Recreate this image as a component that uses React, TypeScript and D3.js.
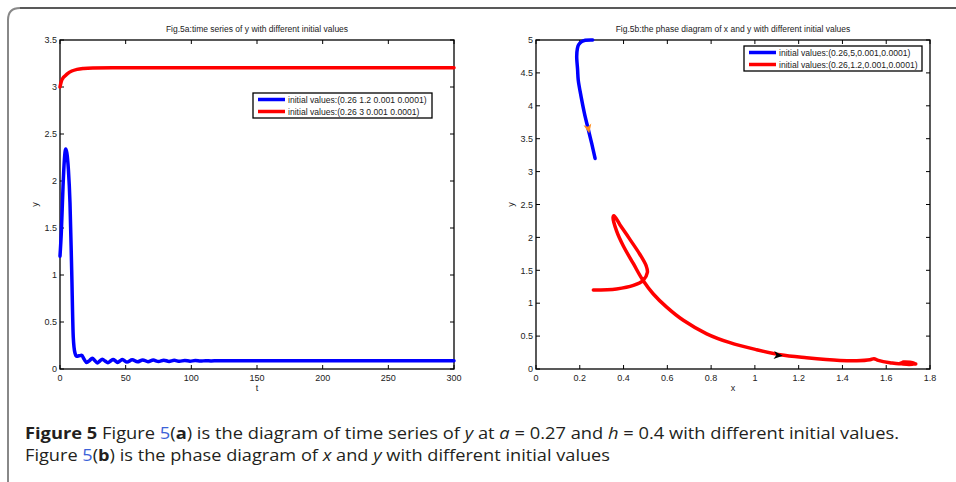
import React from 'react';
import * as d3 from 'd3';

const W = 956;
const H = 482;

// tick values
const timeTicks = [0, 50, 100, 150, 200, 250, 300];
const yTicksA = [0, 0.5, 1, 1.5, 2, 2.5, 3, 3.5];
const xTicksB = [0, 0.2, 0.4, 0.6, 0.8, 1, 1.2, 1.4, 1.6, 1.8];
const yTicksB = [0, 0.5, 1, 1.5, 2, 2.5, 3, 3.5, 4, 4.5, 5];

// Fig.5a, y(t), initial (0.26 1.2 0.001 0.0001)
const blueT = [0, 1, 2.3, 3.3, 4.3, 5.2, 6.4, 7.6, 8.9, 10.1, 11.4, 12.7, 14.5, 16.5, 18.5, 20.3, 22.5, 24.6, 26.5,
  28.4, 30.3, 32.2, 34.3, 36.5, 38.5, 40.5, 42.3, 44, 45.8, 47.5, 51, 55, 59, 63, 67, 71, 75, 79, 83, 87, 91, 95,
  99, 103, 107, 111, 115, 120, 130, 300];
const blueY = [1.2, 1.45, 1.94, 2.22, 2.34, 2.3, 2.12, 1.77, 1.05, 0.34, 0.17, 0.135, 0.14, 0.145, 0.1, 0.07, 0.09,
  0.115, 0.09, 0.065, 0.085, 0.105, 0.085, 0.066, 0.085, 0.102, 0.085, 0.07, 0.087, 0.1, 0.074, 0.098, 0.076,
  0.097, 0.078, 0.095, 0.08, 0.094, 0.081, 0.092, 0.082, 0.091, 0.083, 0.09, 0.084, 0.089, 0.086, 0.087, 0.087, 0.087];

// Fig.5a, y(t), initial (0.26 3 0.001 0.0001)
const redT = [0, 1, 2, 4, 6, 9, 13, 18, 25, 40, 300];
const redY = [3.0, 3.06, 3.09, 3.12, 3.145, 3.17, 3.188, 3.198, 3.203, 3.205, 3.205];

// Fig.5b, phase (x, y), initial (0.26,5,0.001,0.0001)
const phaseBlueX = [0.259, 0.225, 0.209, 0.195, 0.189, 0.186, 0.19, 0.193, 0.206, 0.221, 0.239, 0.255, 0.27];
const phaseBlueY = [5.0, 4.995, 4.975, 4.93, 4.87, 4.75, 4.55, 4.39, 4.14, 3.89, 3.64, 3.42, 3.2];

// Fig.5b, phase (x, y), initial (0.26,1.2,0.001,0.0001)
const phaseRedX = [0.262, 0.368, 0.445, 0.49, 0.509, 0.503, 0.475, 0.429, 0.384, 0.356, 0.352, 0.368, 0.399,
  0.445, 0.49, 0.536, 0.597, 0.673, 0.78, 0.886, 1.008, 1.115, 1.236, 1.389, 1.465, 1.526, 1.544, 1.564, 1.617,
  1.663, 1.678, 1.708, 1.731, 1.693, 1.663, 1.7, 1.735, 1.72];
const phaseRedY = [1.2, 1.217, 1.27, 1.35, 1.47, 1.57, 1.74, 1.97, 2.19, 2.33, 2.3, 2.1, 1.87, 1.6, 1.34, 1.14,
  0.94, 0.74, 0.535, 0.4, 0.293, 0.217, 0.172, 0.131, 0.126, 0.141, 0.157, 0.131, 0.096, 0.081, 0.106, 0.101,
  0.081, 0.071, 0.088, 0.098, 0.075, 0.085];

// direction arrows on the phase curves
const arrowX = [0.239, 1.107];
const arrowY = [3.65, 0.207];
const arrowDeg = [78, 5];

const legendA = ['initial values:(0.26 1.2 0.001 0.0001)', 'initial values:(0.26 3 0.001 0.0001)'];
const legendB = ['initial values:(0.26,5,0.001,0.0001)', 'initial values:(0.26,1.2,0.001,0.0001)'];

const FONT = "'Liberation Sans', Arial, sans-serif";
const BLUE = '#0000ff';
const RED = '#ff0000';

type Sc = d3.ScaleLinear<number, number>;

function Panel({ x, y, xTicks, yTicks, title, xLabel, yLabelX }: {
  x: Sc; y: Sc; xTicks: number[]; yTicks: number[]; title: string; xLabel: string; yLabelX: number;
}) {
  const [x0, x1] = x.range();
  const [y0, y1] = y.range();
  const tl = 4;
  return (
    <g fontFamily={FONT} fill="#222">
      <rect x={x0} y={y1} width={x1 - x0} height={y0 - y1} fill="none" stroke="#000" strokeWidth={1.3} />
      {xTicks.map((v) => (
        <g key={'x' + v}>
          <line x1={x(v)} x2={x(v)} y1={y0} y2={y0 - tl} stroke="#000" />
          <line x1={x(v)} x2={x(v)} y1={y1} y2={y1 + tl} stroke="#000" />
          <text x={x(v)} y={y0 + 11.5} fontSize={9} textAnchor="middle">{String(v)}</text>
        </g>
      ))}
      {yTicks.map((v) => (
        <g key={'y' + v}>
          <line x1={x0} x2={x0 + tl} y1={y(v)} y2={y(v)} stroke="#000" />
          <line x1={x1} x2={x1 - tl} y1={y(v)} y2={y(v)} stroke="#000" />
          <text x={x0 - 3} y={y(v) + 3.2} fontSize={9} textAnchor="end">{String(v)}</text>
        </g>
      ))}
      <text x={(x0 + x1) / 2} y={y1 - 8} fontSize={8.5} textAnchor="middle">{title}</text>
      <text x={(x0 + x1) / 2} y={y0 + 22} fontSize={9} textAnchor="middle">{xLabel}</text>
      <text transform={`translate(${yLabelX},${(y0 + y1) / 2}) rotate(-90)`} fontSize={9} textAnchor="middle">y</text>
    </g>
  );
}

function Legend({ x, y, w, labels }: { x: number; y: number; w: number; labels: string[] }) {
  const colors = [BLUE, RED];
  return (
    <g fontFamily={FONT}>
      <rect x={x} y={y} width={w} height={25} fill="#fff" stroke="#000" strokeWidth={1.3} />
      {labels.map((s, i) => (
        <g key={s}>
          <line x1={x + 5} x2={x + 32} y1={y + 6.5 + i * 12} y2={y + 6.5 + i * 12} stroke={colors[i]} strokeWidth={3.5} />
          <text x={x + 35} y={y + 9.7 + i * 12} fontSize={8.6} fill="#222">{s}</text>
        </g>
      ))}
    </g>
  );
}

export default function App() {
  const xA = d3.scaleLinear().domain([0, 300]).range([60, 454]);
  const yA = d3.scaleLinear().domain([0, 3.5]).range([369, 40]);
  const xB = d3.scaleLinear().domain([0, 1.8]).range([536, 930]);
  const yB = d3.scaleLinear().domain([0, 5]).range([369, 40]);

  const lineA = d3.line<number>().x((_, i) => xA(blueT[i])).y((d) => yA(d)).curve(d3.curveMonotoneX);
  const lineAr = d3.line<number>().x((_, i) => xA(redT[i])).y((d) => yA(d)).curve(d3.curveMonotoneX);
  const lineBb = d3.line<number>().x((_, i) => xB(phaseBlueX[i])).y((d) => yB(d)).curve(d3.curveCatmullRom);
  const lineBr = d3.line<number>().x((_, i) => xB(phaseRedX[i])).y((d) => yB(d)).curve(d3.curveCatmullRom);

  const arrowColors = ['#ff8c1a', '#000'];

  return (
    <svg width={W} height={H} style={{ position: 'absolute', left: 0, top: 0 }}>
      <rect width={W} height={H} fill="#fff" />
      {/* page frame */}
      <path d="M8,482 L8,20 Q8,8 20,8" fill="none" stroke="#888" strokeWidth={2} />
      <path d="M20,8 L956,8" fill="none" stroke="#222" strokeWidth={1.5} />

      <Panel x={xA} y={yA} xTicks={timeTicks} yTicks={yTicksA}
        title="Fig.5a:time series of y with different initial values" xLabel="t" yLabelX={38} />
      <g fill="none" strokeWidth={3.5} strokeLinejoin="round" strokeLinecap="round">
        <path d={lineA(blueY) || ''} stroke={BLUE} />
        <path d={lineAr(redY) || ''} stroke={RED} />
      </g>
      <Legend x={253} y={93} w={179} labels={legendA} />

      <Panel x={xB} y={yB} xTicks={xTicksB} yTicks={yTicksB}
        title="Fig.5b:the phase diagram of x and y with different initial values" xLabel="x" yLabelX={514} />
      <g fill="none" strokeWidth={3.5} strokeLinejoin="round" strokeLinecap="round">
        <path d={lineBb(phaseBlueY) || ''} stroke={BLUE} />
        <path d={lineBr(phaseRedY) || ''} stroke={RED} />
      </g>
      {arrowX.map((v, i) => (
        <path key={i} transform={`translate(${xB(v)},${yB(arrowY[i])}) rotate(${arrowDeg[i]})`}
          d="M4.5,0 L-4.5,-4 L-2,0 L-4.5,4 Z" fill={arrowColors[i]} />
      ))}
      <Legend x={744} y={46} w={178} labels={legendB} />

      {/* caption */}
      <g fontFamily="'Open Sans', 'Noto Sans', sans-serif" fontSize={16.5} fill="#231f20">
        <text x={25} y={439} textLength={874} lengthAdjust="spacingAndGlyphs">
          <tspan fontWeight="bold">Figure 5</tspan>
          <tspan>{'  Figure '}</tspan>
          <tspan fill="#3c62d8">5</tspan>
          <tspan>(</tspan>
          <tspan fontWeight="bold">a</tspan>
          <tspan>{') is the diagram of time series of '}</tspan>
          <tspan fontStyle="italic">y</tspan>
          <tspan>{' at '}</tspan>
          <tspan fontStyle="italic">a</tspan>
          <tspan>{' = 0.27 and '}</tspan>
          <tspan fontStyle="italic">h</tspan>
          <tspan>{' = 0.4 with different initial values.'}</tspan>
        </text>
        <text x={25} y={461} textLength={585} lengthAdjust="spacingAndGlyphs">
          <tspan>{'Figure '}</tspan>
          <tspan fill="#3c62d8">5</tspan>
          <tspan>(</tspan>
          <tspan fontWeight="bold">b</tspan>
          <tspan>{') is the phase diagram of '}</tspan>
          <tspan fontStyle="italic">x</tspan>
          <tspan>{' and '}</tspan>
          <tspan fontStyle="italic">y</tspan>
          <tspan>{' with different initial values'}</tspan>
        </text>
      </g>
    </svg>
  );
}
